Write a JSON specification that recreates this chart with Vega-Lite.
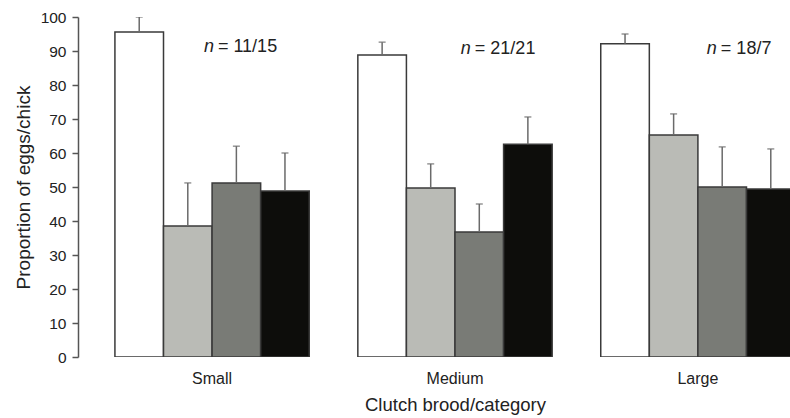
{
  "$schema": "https://vega.github.io/schema/vega-lite/v6.json",
  "width": 712,
  "height": 340,
  "autosize": {"type": "none"},
  "padding": {"left": 78, "top": 17, "right": 0, "bottom": 61},
  "background": "white",
  "config": {
    "view": {"stroke": null},
    "font": "Liberation Sans",
    "axis": {"labelFont": "Liberation Sans", "titleFont": "Liberation Sans", "grid": false},
    "axisY": {
      "domainColor": "#555",
      "domainWidth": 1.5,
      "tickColor": "#555",
      "tickWidth": 1.5,
      "tickSize": 6,
      "labelFontSize": 15.5,
      "labelColor": "#222",
      "labelPadding": 6,
      "labelOverlap": false,
      "titleFontSize": 19,
      "titleFontWeight": "normal",
      "titleColor": "#222",
      "titlePadding": 7
    }
  },
  "datasets": {
    "bars": [
      {"group": "Small", "cat": "a", "value": 95.6, "upper": 100},
      {"group": "Small", "cat": "b", "value": 38.5, "upper": 51.2},
      {"group": "Small", "cat": "c", "value": 51.2, "upper": 62},
      {"group": "Small", "cat": "d", "value": 48.8, "upper": 60},
      {"group": "Medium", "cat": "a", "value": 88.8, "upper": 92.6},
      {"group": "Medium", "cat": "b", "value": 49.7, "upper": 56.8},
      {"group": "Medium", "cat": "c", "value": 36.8, "upper": 45},
      {"group": "Medium", "cat": "d", "value": 62.6, "upper": 70.6},
      {"group": "Large", "cat": "a", "value": 92.1, "upper": 95},
      {"group": "Large", "cat": "b", "value": 65.3, "upper": 71.5},
      {"group": "Large", "cat": "c", "value": 50, "upper": 61.8},
      {"group": "Large", "cat": "d", "value": 49.4, "upper": 61.2}
    ]
  },
  "encoding": {
    "x": {
      "field": "group",
      "type": "nominal",
      "sort": ["Small", "Medium", "Large"],
      "scale": {"type": "band", "paddingInner": 0.2, "paddingOuter": 0.152, "range": [0, 754]},
      "axis": {
        "title": "Clutch brood/category",
        "labelAngle": 0,
        "domain": false,
        "ticks": false,
        "labelFontSize": 16,
        "labelColor": "#222",
        "labelPadding": 13,
        "titleFontSize": 18.5,
        "titleFontWeight": "normal",
        "titleColor": "#222",
        "titlePadding": 9
      }
    }
  },
  "layer": [
    {
      "data": {"name": "bars"},
      "mark": {"type": "bar", "stroke": "#3a3a3a", "strokeWidth": 1.5, "clip": true},
      "encoding": {
        "xOffset": {"field": "cat", "type": "nominal", "scale": {"paddingInner": 0, "paddingOuter": 0}},
        "y": {
          "field": "value",
          "type": "quantitative",
          "scale": {"domain": [0, 100], "nice": false},
          "axis": {"title": "Proportion of eggs/chick", "values": [0, 10, 20, 30, 40, 50, 60, 70, 80, 90, 100]}
        },
        "color": {
          "field": "cat",
          "type": "nominal",
          "scale": {"domain": ["a", "b", "c", "d"], "range": ["#ffffff", "#babbb6", "#797b76", "#0d0d0b"]},
          "legend": null
        }
      }
    },
    {
      "data": {"name": "bars"},
      "mark": {"type": "rule", "color": "#6a6a6a", "strokeWidth": 1.5, "clip": true},
      "encoding": {
        "xOffset": {"field": "cat", "type": "nominal"},
        "y": {"field": "value", "type": "quantitative", "axis": {"title": "Proportion of eggs/chick", "values": [0, 10, 20, 30, 40, 50, 60, 70, 80, 90, 100]}},
        "y2": {"field": "upper"}
      }
    },
    {
      "data": {"name": "bars"},
      "mark": {"type": "tick", "color": "#6a6a6a", "thickness": 1.5, "size": 7, "orient": "horizontal", "clip": true},
      "encoding": {
        "xOffset": {"field": "cat", "type": "nominal"},
        "y": {"field": "upper", "type": "quantitative", "axis": {"title": "Proportion of eggs/chick", "values": [0, 10, 20, 30, 40, 50, 60, 70, 80, 90, 100]}}
      }
    },
    {
      "data": {"values": [{"group": "Small", "y": 91.2, "t": "n"}]},
      "mark": {"type": "text", "align": "left", "baseline": "middle", "fontSize": 18, "fontStyle": "italic", "color": "#222"},
      "encoding": {"x": {"field": "group", "type": "nominal", "bandPosition": 0.458}, "y": {"field": "y", "type": "quantitative", "axis": {"title": "Proportion of eggs/chick", "values": [0, 10, 20, 30, 40, 50, 60, 70, 80, 90, 100]}}, "text": {"field": "t"}}
    },
    {
      "data": {"values": [{"group": "Small", "y": 91.2, "t": "= 11/15"}]},
      "mark": {"type": "text", "align": "left", "baseline": "middle", "fontSize": 18, "dx": 14, "color": "#222"},
      "encoding": {"x": {"field": "group", "type": "nominal", "bandPosition": 0.458}, "y": {"field": "y", "type": "quantitative", "axis": {"title": "Proportion of eggs/chick", "values": [0, 10, 20, 30, 40, 50, 60, 70, 80, 90, 100]}}, "text": {"field": "t"}}
    },
    {
      "data": {"values": [{"group": "Medium", "y": 90.6, "t": "n"}]},
      "mark": {"type": "text", "align": "left", "baseline": "middle", "fontSize": 18, "fontStyle": "italic", "color": "#222"},
      "encoding": {"x": {"field": "group", "type": "nominal", "bandPosition": 0.53}, "y": {"field": "y", "type": "quantitative", "axis": {"title": "Proportion of eggs/chick", "values": [0, 10, 20, 30, 40, 50, 60, 70, 80, 90, 100]}}, "text": {"field": "t"}}
    },
    {
      "data": {"values": [{"group": "Medium", "y": 90.6, "t": "= 21/21"}]},
      "mark": {"type": "text", "align": "left", "baseline": "middle", "fontSize": 18, "dx": 14, "color": "#222"},
      "encoding": {"x": {"field": "group", "type": "nominal", "bandPosition": 0.53}, "y": {"field": "y", "type": "quantitative", "axis": {"title": "Proportion of eggs/chick", "values": [0, 10, 20, 30, 40, 50, 60, 70, 80, 90, 100]}}, "text": {"field": "t"}}
    },
    {
      "data": {"values": [{"group": "Large", "y": 90.6, "t": "n"}]},
      "mark": {"type": "text", "align": "left", "baseline": "middle", "fontSize": 18, "fontStyle": "italic", "color": "#222"},
      "encoding": {"x": {"field": "group", "type": "nominal", "bandPosition": 0.546}, "y": {"field": "y", "type": "quantitative", "axis": {"title": "Proportion of eggs/chick", "values": [0, 10, 20, 30, 40, 50, 60, 70, 80, 90, 100]}}, "text": {"field": "t"}}
    },
    {
      "data": {"values": [{"group": "Large", "y": 90.6, "t": "= 18/7"}]},
      "mark": {"type": "text", "align": "left", "baseline": "middle", "fontSize": 18, "dx": 14, "color": "#222"},
      "encoding": {"x": {"field": "group", "type": "nominal", "bandPosition": 0.546}, "y": {"field": "y", "type": "quantitative", "axis": {"title": "Proportion of eggs/chick", "values": [0, 10, 20, 30, 40, 50, 60, 70, 80, 90, 100]}}, "text": {"field": "t"}}
    }
  ]
}
